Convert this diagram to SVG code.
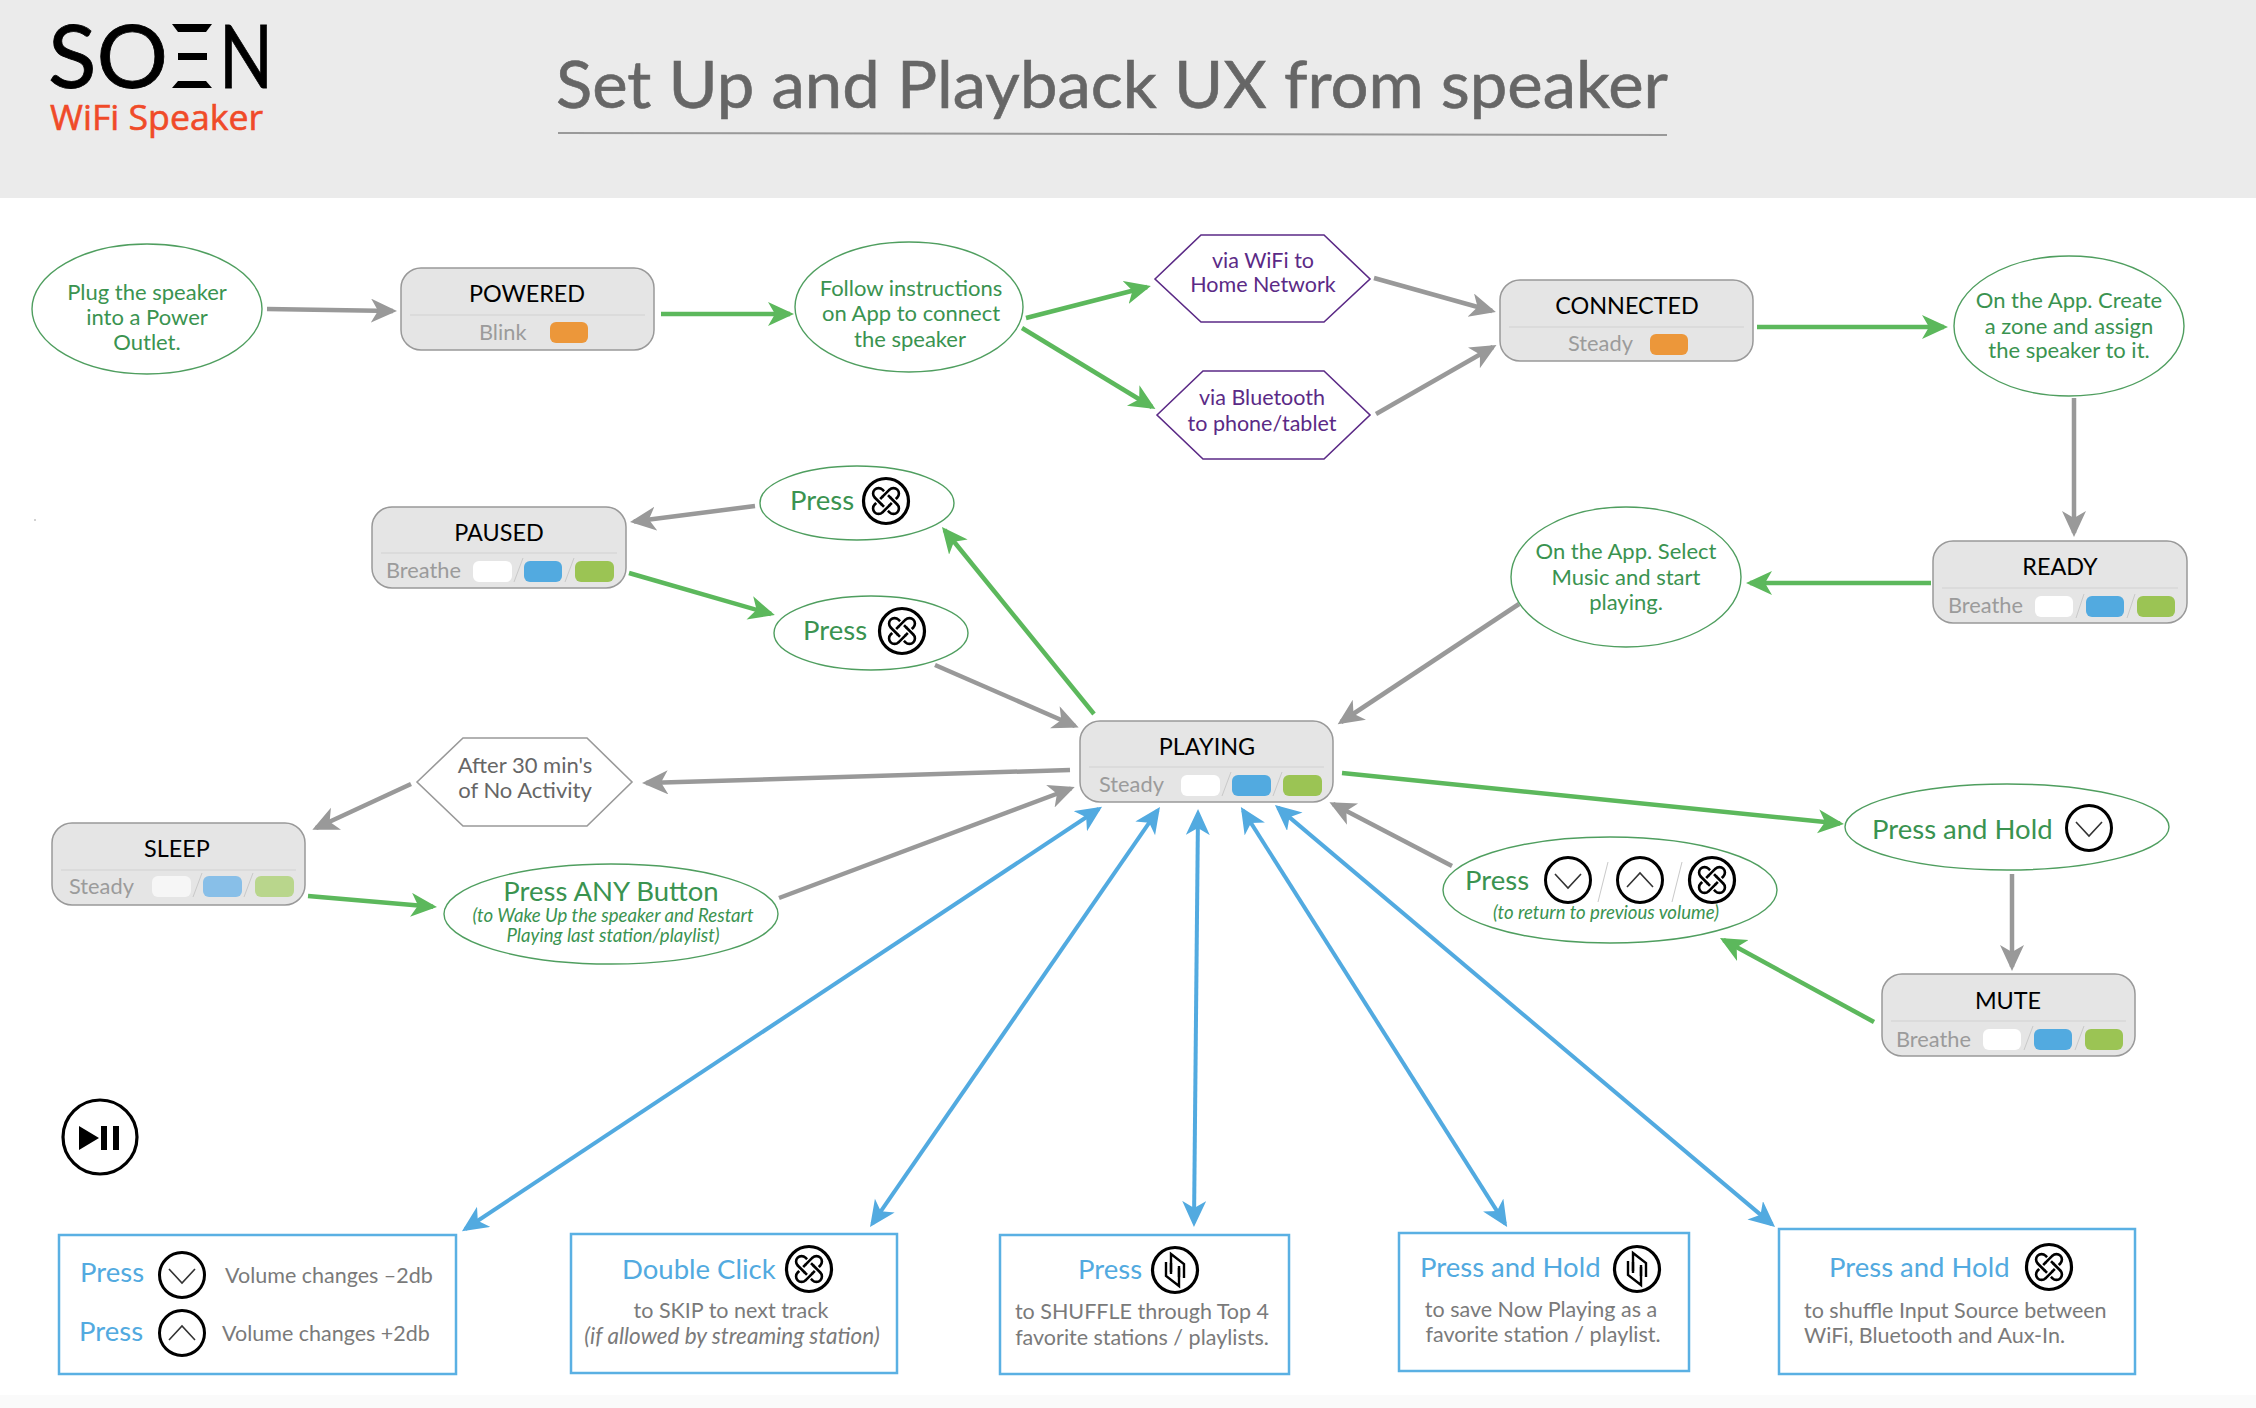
<svg xmlns="http://www.w3.org/2000/svg" width="2256" height="1408" viewBox="0 0 2256 1408">
<style>
text{font-family:"Lato","Open Sans","Liberation Sans",sans-serif}
.st{fill:#e5e5e5;stroke:#999;stroke-width:1.5}
.dv{stroke:#d2d2d2;stroke-width:1.2}
.sl{stroke:#c9c9c9;stroke-width:1;fill:none}
.nm{font-size:23.4px;fill:#000;text-anchor:middle}
.md{font-size:21.8px;fill:#9b9b9b}
.w{fill:#fff}.b{fill:#52aae0}.g{fill:#9bc454}.o{fill:#ec973a}
.el{fill:#fff;stroke:#4f9e5f;stroke-width:1.4}
.et{font-size:22px;fill:#3a9350;text-anchor:middle}
.ep{font-size:27.5px;fill:#3a9350}
.ei{font-size:18.6px;fill:#3a9350;font-style:italic;text-anchor:middle}
.hx{fill:#fff;stroke:#5b2a86;stroke-width:1.6}
.ht{font-size:21.5px;fill:#5b2a86;text-anchor:middle}
.bx{fill:#fff;stroke:#5ab0e3;stroke-width:2.5}
.bh{font-size:27.5px;fill:#52aae0}
.bt{font-size:21.5px;fill:#7a7a7a}
.c{text-anchor:middle}
.ag{stroke:#999;stroke-width:4.5;fill:none;marker-end:url(#hg)}
.an{stroke:#5cb85c;stroke-width:4.5;fill:none;marker-end:url(#hn)}
.ab{stroke:#52aae0;stroke-width:4;fill:none;marker-start:url(#hb);marker-end:url(#hb)}
.lg{font-size:88px;fill:#000;stroke:#000;stroke-width:0.8}
</style>
<defs>
<marker id="hg" markerUnits="userSpaceOnUse" markerWidth="30" markerHeight="26" refX="22" refY="12" orient="auto"><path d="M26,12 L0,0 L7,12 L0,24 Z" fill="#999"/></marker>
<marker id="hn" markerUnits="userSpaceOnUse" markerWidth="30" markerHeight="26" refX="22" refY="12" orient="auto"><path d="M26,12 L0,0 L7,12 L0,24 Z" fill="#5cb85c"/></marker>
<marker id="hb" markerUnits="userSpaceOnUse" markerWidth="30" markerHeight="26" refX="22" refY="12" orient="auto-start-reverse"><path d="M26,12 L0,0 L7,12 L0,24 Z" fill="#52aae0"/></marker>
<g id="knot"><circle r="22.5" fill="#fff" stroke="#000" stroke-width="3.2"/><g fill="none" stroke="#000" stroke-width="2.6"><rect x="-16" y="-5.5" width="32" height="11" rx="5.5" transform="rotate(45)"/><rect x="-16" y="-5.5" width="32" height="11" rx="5.5" transform="rotate(-45)"/><path d="M4.8,-3 L10.8,3 M-10.8,-3 L-4.8,3 M-3,10.8 L3,4.8 M-3,-4.8 L3,-10.8" stroke="#fff" stroke-width="5.5"/><path d="M4.3,-3.5 L11.3,3.5 M-11.3,-3.5 L-4.3,3.5 M-3.5,11.3 L3.5,4.3 M-3.5,-4.3 L3.5,-11.3"/></g></g>
<g id="down"><circle r="22.5" fill="#fff" stroke="#000" stroke-width="3"/><path d="M-13,-6 L0,8 L13,-6" fill="none" stroke="#333" stroke-width="1.6"/></g>
<g id="up"><circle r="22.5" fill="#fff" stroke="#000" stroke-width="3"/><path d="M-13,7 L0,-7 L13,7" fill="none" stroke="#333" stroke-width="1.6"/></g>
<g id="shuf"><circle r="22.5" fill="#fff" stroke="#000" stroke-width="3.2"/><g fill="none" stroke="#000" stroke-width="2.4"><path d="M-9,-8 V6 L4,16 V-2"/><path d="M9,8 V-6 L-4,-16 V2"/><path d="M-4,-7 V4"/><path d="M4,7 V-4"/></g></g>
</defs>
<rect width="2256" height="1408" fill="#fff"/>
<rect width="2256" height="198" fill="#ebebeb"/>
<rect y="1395" width="2256" height="13" fill="#fafafa"/>

<g id="logo">
<text class="lg" x="48" y="88" textLength="120" lengthAdjust="spacingAndGlyphs">SO</text>
<path d="M172,24 H212 L206,32 H178 Z M178,53 H207 V60 H178 Z M178,81 H206 L212,88 H172 Z" fill="#000"/>
<text class="lg" x="219" y="88" textLength="54" lengthAdjust="spacingAndGlyphs">N</text>
<text x="50" y="130" font-size="35" textLength="213" lengthAdjust="spacingAndGlyphs" fill="#f04a28" stroke="#f04a28" stroke-width="0.6" style="font-family:'Open Sans',sans-serif">WiFi Speaker</text>
</g>
<g id="title">
<text x="556" y="108" font-size="66" textLength="1112" lengthAdjust="spacingAndGlyphs" fill="#666" stroke="#666" stroke-width="0.6">Set Up and Playback UX from speaker</text>
<path d="M558,133 L1667,135" stroke="#999" stroke-width="2"/>
</g>
<circle cx="35" cy="520" r="0.8" fill="#999"/>

<g id="connectors">
<path class="ag" d="M267,309 L393,311"/>
<path class="an" d="M661,314 H790"/>
<path class="an" d="M1026,318 L1147,287"/>
<path class="an" d="M1022,328 L1152,407"/>
<path class="ag" d="M1374,278 L1492,311"/>
<path class="ag" d="M1376,414 L1493,347"/>
<path class="an" d="M1757,327 H1944"/>
<path class="ag" d="M2074,398 V533"/>
<path class="an" d="M1931,583 H1750"/>
<path class="ag" d="M1519,604 L1341,722"/>
<path class="ag" d="M755,506 L634,521.5"/>
<path class="an" d="M629,573 L771,614"/>
<path class="an" d="M1094,714 L944.5,530"/>
<path class="ag" d="M935,665 L1075,726"/>
<path class="ag" d="M1070,770 L646,783"/>
<path class="ag" d="M411,784 L316,828"/>
<path class="an" d="M308,896 L433,906.7"/>
<path class="ag" d="M779,898 L1071,788.5"/>
<path class="an" d="M1342,773 L1840,823.6"/>
<path class="ag" d="M2012,874 V967"/>
<path class="an" d="M1874,1022 L1723.5,940"/>
<path class="ag" d="M1452,866 L1333,804"/>
<path class="ab" d="M1098.7,809 L465.3,1229"/>
<path class="ab" d="M1157.7,810.3 L872.3,1223.7"/>
<path class="ab" d="M1198,813 L1194,1223"/>
<path class="ab" d="M1243,810.4 L1505,1223.6"/>
<path class="ab" d="M1278,807.6 L1772,1224.4"/>
</g>

<g id="plug"><ellipse class="el" cx="147" cy="309" rx="115" ry="65"/><text class="et" x="147" y="300">Plug the speaker</text><text class="et" x="147" y="325">into a Power</text><text class="et" x="147" y="350">Outlet.</text></g>
<g id="powered"><rect class="st" x="401" y="268" width="253" height="82" rx="20"/><path class="dv" d="M410,315 H645"/><text class="nm" x="527" y="302">POWERED</text><text class="md" x="479" y="340">Blink</text><rect class="o" x="550" y="322" width="38" height="21" rx="6"/></g>
<g id="follow"><ellipse class="el" cx="909" cy="307" rx="114" ry="65"/><text class="et" x="911" y="296">Follow instructions</text><text class="et" x="911" y="321">on App to connect</text><text class="et" x="910" y="347">the speaker</text></g>
<g id="wifi"><path class="hx" d="M1155,279 L1201,235 H1324 L1370,279 L1324,322 H1201 Z"/><text class="ht" x="1263" y="268">via WiFi to</text><text class="ht" x="1263" y="292">Home Network</text></g>
<g id="bluetooth"><path class="hx" d="M1157,415 L1203,371 H1324 L1370,415 L1324,459 H1203 Z"/><text class="ht" x="1262" y="405">via Bluetooth</text><text class="ht" x="1262" y="431">to phone/tablet</text></g>
<g id="connected"><rect class="st" x="1500" y="280" width="253" height="81" rx="20"/><path class="dv" d="M1509,327 H1744"/><text class="nm" x="1627" y="314">CONNECTED</text><text class="md" x="1568" y="351">Steady</text><rect class="o" x="1650" y="334" width="38" height="21" rx="6"/></g>
<g id="app-zone"><ellipse class="el" cx="2069" cy="326" rx="115" ry="70"/><text class="et" x="2069" y="308">On the App. Create</text><text class="et" x="2069" y="334">a zone and assign</text><text class="et" x="2069" y="358">the speaker to it.</text></g>
<g id="ready"><rect class="st" x="1933" y="541" width="254" height="82" rx="20"/><path class="dv" d="M1942,588 H2178"/><text class="nm" x="2060" y="575">READY</text><text class="md" x="1948" y="613">Breathe</text><rect class="w" x="2035" y="596" width="38" height="21" rx="6"/><path class="sl" d="M2084,594 L2076,618"/><rect class="b" x="2086" y="596" width="38" height="21" rx="6"/><path class="sl" d="M2135,594 L2127,618"/><rect class="g" x="2137" y="596" width="38" height="21" rx="6"/></g>
<g id="app-music"><ellipse class="el" cx="1626" cy="577" rx="115" ry="70"/><text class="et" x="1626" y="559">On the App. Select</text><text class="et" x="1626" y="585">Music and start</text><text class="et" x="1626" y="610">playing.</text></g>
<g id="playing"><rect class="st" x="1080" y="721" width="253" height="81" rx="20"/><path class="dv" d="M1089,767 H1324"/><text class="nm" x="1207" y="755">PLAYING</text><text class="md" x="1099" y="792">Steady</text><rect class="w" x="1181" y="775" width="39" height="21" rx="6"/><path class="sl" d="M1231,772 L1222,796"/><rect class="b" x="1232" y="775" width="39" height="21" rx="6"/><path class="sl" d="M1282,772 L1273,796"/><rect class="g" x="1283" y="775" width="39" height="21" rx="6"/></g>
<g id="paused"><rect class="st" x="372" y="507" width="254" height="81" rx="20"/><path class="dv" d="M381,553 H617"/><text class="nm" x="499" y="541">PAUSED</text><text class="md" x="386" y="578">Breathe</text><rect class="w" x="473" y="561" width="39" height="21" rx="6"/><path class="sl" d="M523,558 L514,582"/><rect class="b" x="524" y="561" width="38" height="21" rx="6"/><path class="sl" d="M574,558 L565,582"/><rect class="g" x="575" y="561" width="39" height="21" rx="6"/></g>
<g id="press-pause"><ellipse class="el" cx="857" cy="503" rx="97" ry="37"/><text class="ep" x="790" y="510">Press</text><use href="#knot" x="886" y="501"/></g>
<g id="press-resume"><ellipse class="el" cx="871" cy="633" rx="97" ry="37"/><text class="ep" x="803" y="640">Press</text><use href="#knot" x="902" y="631"/></g>
<g id="after"><path fill="#fff" stroke="#999" stroke-width="1.6" d="M417,782 L463,738 H587 L632,782 L587,826 H463 Z"/><text class="et" style="fill:#666" x="525" y="773">After 30 min's</text><text class="et" style="fill:#666" x="525" y="798">of No Activity</text></g>
<g id="sleep"><rect class="st" x="52" y="823" width="253" height="82" rx="20"/><path class="dv" d="M61,870 H296"/><text class="nm" x="177" y="857">SLEEP</text><text class="md" x="69" y="894">Steady</text><rect x="152" y="876" width="39" height="21" rx="6" fill="#f6f6f6"/><path class="sl" d="M202,873 L193,897"/><rect x="203" y="876" width="39" height="21" rx="6" fill="#88bfe8"/><path class="sl" d="M253,873 L244,897"/><rect x="255" y="876" width="39" height="21" rx="6" fill="#b9d68c"/></g>
<g id="press-any"><ellipse class="el" cx="611" cy="914" rx="167" ry="50"/><text class="ep c" x="611" y="901">Press ANY Button</text><text class="ei" x="613" y="922">(to Wake Up the speaker and Restart</text><text class="ei" x="613" y="942">Playing last station/playlist)</text></g>
<g id="press-hold-down"><ellipse class="el" cx="2007" cy="827" rx="162" ry="43"/><text class="ep" x="1872" y="839">Press and Hold</text><use href="#down" x="2089" y="828"/></g>
<g id="press-return"><ellipse class="el" cx="1610" cy="890" rx="167" ry="53"/><text class="ep" x="1465" y="890">Press</text><use href="#down" x="1568" y="880"/><path class="sl" d="M1608,862 L1598,902"/><use href="#up" x="1640" y="880"/><path class="sl" d="M1682,862 L1672,902"/><use href="#knot" x="1712" y="880"/><text class="ei" x="1606" y="919">(to return to previous volume)</text></g>
<g id="mute"><rect class="st" x="1882" y="974" width="253" height="82" rx="20"/><path class="dv" d="M1891,1021 H2126"/><text class="nm" x="2008" y="1009">MUTE</text><text class="md" x="1896" y="1047">Breathe</text><rect class="w" x="1983" y="1029" width="38" height="21" rx="6"/><path class="sl" d="M2033,1026 L2024,1050"/><rect class="b" x="2034" y="1029" width="38" height="21" rx="6"/><path class="sl" d="M2084,1026 L2075,1050"/><rect class="g" x="2085" y="1029" width="38" height="21" rx="6"/></g>
<g id="play-pause-icon"><circle cx="100" cy="1137" r="37" fill="#fff" stroke="#000" stroke-width="3.2"/><path d="M79,1126 L99,1138 L79,1150 Z M101,1126 H107 V1150 H101 Z M113,1126 H119 V1150 H113 Z" fill="#000"/></g>

<g id="box-volume"><rect class="bx" x="59" y="1235" width="397" height="139"/><text class="bh" x="80" y="1282">Press</text><use href="#down" x="182" y="1275"/><text class="bt" x="225" y="1283">Volume changes –2db</text><text class="bh" x="79" y="1341">Press</text><use href="#up" x="182" y="1333"/><text class="bt" x="222" y="1341">Volume changes +2db</text></g>
<g id="box-skip"><rect class="bx" x="571" y="1234" width="326" height="139"/><text class="bh" x="622" y="1279">Double Click</text><use href="#knot" x="809" y="1269"/><text class="bt c" x="731" y="1318">to SKIP to next track</text><text class="bt c" font-style="italic" style="font-size:22.5px" x="732" y="1344">(if allowed by streaming station)</text></g>
<g id="box-shuffle"><rect class="bx" x="1000" y="1235" width="289" height="139"/><text class="bh" x="1078" y="1279">Press</text><use href="#shuf" x="1175" y="1270"/><text class="bt c" x="1142" y="1319">to SHUFFLE through Top 4</text><text class="bt c" x="1142" y="1345">favorite stations / playlists.</text></g>
<g id="box-save"><rect class="bx" x="1399" y="1233" width="290" height="138"/><text class="bh" x="1420" y="1277">Press and Hold</text><use href="#shuf" x="1637" y="1269"/><text class="bt c" x="1541" y="1317">to save Now Playing as a</text><text class="bt c" x="1543" y="1342">favorite station / playlist.</text></g>
<g id="box-source"><rect class="bx" x="1779" y="1229" width="356" height="145"/><text class="bh" x="1829" y="1277">Press and Hold</text><use href="#knot" x="2049" y="1267"/><text class="bt" x="1804" y="1318">to shuffle Input Source between</text><text class="bt" x="1804" y="1343">WiFi, Bluetooth and Aux-In.</text></g>
</svg>
